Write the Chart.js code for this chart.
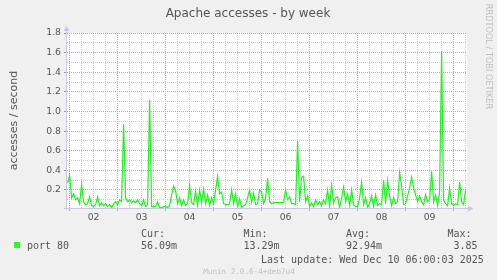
<!DOCTYPE html>
<html>
<head>
<meta charset="utf-8">
<script src="https://cdn.jsdelivr.net/npm/chart.js@4.4.1/dist/chart.umd.min.js"></script>
<style>
  html, body { margin: 0; padding: 0; background: #f0f0f0; }
  #wrap { width: 497px; height: 280px; }
</style>
</head>
<body>
<div id="wrap"><canvas id="apacheWeek" width="497" height="280"></canvas></div>
<script>
// hours counted from Tue Dec 02 00:00, one sample per hour
var startHour = -1;
var port80 = [
    0.27, 0.35, 0.12, 0.16, 0.10, 0.12, 0.06, 0.26, 0.08, 0.05, 0.06, 0.13, 0.04,
    0.03, 0.05, 0.13, 0.04, 0.07, 0.04, 0.06, 0.03, 0.05, 0.02, 0.06, 0.08,
    0.05, 0.10, 0.08, 0.87, 0.12, 0.08, 0.10, 0.07, 0.09, 0.07, 0.10, 0.06,
    0.04, 0.10, 0.03, 0.05, 1.12, 0.03, 0.03, 0.03, 0.08, 0.02, 0.02, 0.03,
    0.03, 0.02, 0.04, 0.15, 0.24, 0.19, 0.06, 0.12, 0.04, 0.10, 0.04, 0.06,
    0.25, 0.07, 0.05, 0.19, 0.04, 0.20, 0.07, 0.21, 0.06, 0.15, 0.04, 0.12,
    0.06, 0.20, 0.34, 0.16, 0.18, 0.06, 0.05, 0.05, 0.06, 0.20, 0.06, 0.16,
    0.03, 0.11, 0.02, 0.04, 0.05, 0.12, 0.20, 0.07, 0.17, 0.05, 0.06, 0.20,
    0.18, 0.06, 0.12, 0.32, 0.08, 0.06, 0.07, 0.07, 0.07, 0.07, 0.07, 0.07,
    0.20, 0.10, 0.13, 0.06, 0.06, 0.05, 0.70, 0.08, 0.33, 0.34, 0.08, 0.14,
    0.03, 0.07, 0.03, 0.10, 0.05, 0.08, 0.04, 0.10, 0.06, 0.20, 0.03, 0.25,
    0.07, 0.12, 0.13, 0.02, 0.12, 0.23, 0.08, 0.16, 0.04, 0.20, 0.05, 0.03,
    0.03, 0.12, 0.28, 0.05, 0.12, 0.02, 0.06, 0.14, 0.03, 0.15, 0.04, 0.06,
    0.05, 0.30, 0.06, 0.30, 0.14, 0.04, 0.12, 0.06, 0.08, 0.38, 0.24, 0.05,
    0.06, 0.14, 0.22, 0.33, 0.22, 0.15, 0.08, 0.14, 0.08, 0.05, 0.15, 0.08,
    0.10, 0.39, 0.08, 0.15, 0.04, 0.18, 1.62, 0.10, 0.06, 0.04, 0.22, 0.06,
    0.04, 0.06, 0.05, 0.28, 0.08, 0.05, 0.20
];
var dayLabels = ['02', '03', '04', '05', '06', '07', '08', '09'];
var legendName = 'port 80';
var legendStats = [['Cur:', '56.09m'], ['Min:', '13.29m'], ['Avg:', '92.94m'], ['Max:', '3.85']];

var points = port80.map(function(v, i) { return { x: startHour + i, y: v }; });

var red = 'rgb(238, 150, 150)';
var grey = 'rgb(205, 205, 205)';
var axisColor = '#c8c8e4';
var textColor = '#555555';

// rrdtool style decorations: title, axis label, legend, arrows
var munin = {
    id: 'munin',
    beforeDraw: function(chart) {
        var ctx = chart.ctx, a = chart.chartArea;
        ctx.save();
        ctx.fillStyle = '#f0f0f0';
        ctx.fillRect(0, 0, chart.width, chart.height);
        ctx.fillStyle = '#ffffff';
        ctx.fillRect(a.left, a.top, a.right - a.left, a.bottom - a.top);
        ctx.restore();
    },
    afterDraw: function(chart) {
        var ctx = chart.ctx, a = chart.chartArea;
        ctx.save();
        // axes with arrows
        ctx.strokeStyle = axisColor;
        ctx.fillStyle = axisColor;
        ctx.lineWidth = 1;
        ctx.beginPath();
        ctx.moveTo(a.left - 0.5, a.bottom + 2);
        ctx.lineTo(a.left - 0.5, a.top - 3);
        ctx.moveTo(a.left - 3, a.bottom + 0.5);
        ctx.lineTo(a.right + 2, a.bottom + 0.5);
        ctx.stroke();
        ctx.beginPath();
        ctx.moveTo(a.left - 3.5, a.top - 2);
        ctx.lineTo(a.left + 2.5, a.top - 2);
        ctx.lineTo(a.left - 0.5, a.top - 7);
        ctx.closePath();
        ctx.fill();
        ctx.beginPath();
        ctx.moveTo(a.right + 1, a.bottom - 2.5);
        ctx.lineTo(a.right + 1, a.bottom + 3.5);
        ctx.lineTo(a.right + 6, a.bottom + 0.5);
        ctx.closePath();
        ctx.fill();

        // title
        ctx.fillStyle = textColor;
        ctx.font = '12px "DejaVu Sans"';
        ctx.textAlign = 'center';
        ctx.textBaseline = 'alphabetic';
        ctx.fillText('Apache accesses - by week', 248, 17);

        // y axis title
        ctx.save();
        ctx.translate(17, (a.top + a.bottom) / 2);
        ctx.rotate(-Math.PI / 2);
        ctx.font = '11px "DejaVu Sans"';
        ctx.fillText('accesses / second', 0, 0);
        ctx.restore();

        // rrdtool credit
        ctx.save();
        ctx.translate(486, 56.5);
        ctx.rotate(Math.PI / 2);
        ctx.fillStyle = '#c0c0c0';
        ctx.font = '8.2px "DejaVu Sans"';
        ctx.fillText('RRDTOOL / TOBI OETIKER', 0, 0);
        ctx.restore();

        // legend
        ctx.textAlign = 'left';
        ctx.fillStyle = '#22ff22';
        ctx.fillRect(14, 242, 6, 6);
        ctx.fillStyle = textColor;
        ctx.font = '10px "DejaVu Sans Mono"';
        ctx.fillText(legendName, 27, 249);
        var cols = [141, 243.5, 346, 447.5];
        legendStats.forEach(function(s, i) {
            ctx.fillText(s[0], cols[i], 236.5);
            ctx.fillText(s[1], i === 3 ? cols[i] + 6 : cols[i], 249);
        });
        ctx.fillText('Last update: Wed Dec 10 06:00:03 2025', 261, 262.5);

        ctx.fillStyle = '#c0c0c0';
        ctx.font = '7.6px "DejaVu Sans Mono"';
        ctx.textAlign = 'center';
        ctx.fillText('Munin 2.0.6-4+deb7u4', 249, 274);
        ctx.restore();
    }
};

var ctxWeek = document.getElementById('apacheWeek').getContext('2d');
var weekChart = new Chart(ctxWeek, {
    type: 'line',
    data: {
        datasets: [{
            label: legendName,
            data: points,
            borderColor: '#22f022',
            borderWidth: 1.2,
            pointRadius: 0,
            tension: 0,
            fill: false
        }]
    },
    options: {
        responsive: false,
        animation: false,
        layout: { padding: { top: 33, right: 30, left: 0, bottom: 0 } },
        plugins: {
            legend: { display: false },
            title: { display: false },
            tooltip: { enabled: false }
        },
        scales: {
            x: {
                type: 'linear',
                min: -1.3,
                max: 198.7,
                afterFit: function(s) { s.height = 72; },
                border: { display: false, dash: [1, 1] },
                grid: {
                    color: function(c) { return c.tick && c.tick.value % 24 === 0 ? red : grey; },
                    tickLength: 3,
                    tickColor: function(c) { return c.tick && c.tick.value % 24 === 0 ? red : 'rgba(0,0,0,0)'; }
                },
                ticks: {
                    stepSize: 6,
                    includeBounds: false,
                    autoSkip: false,
                    maxRotation: 0,
                    padding: 1,
                    color: textColor,
                    font: { family: 'DejaVu Sans', size: 9.3 },
                    callback: function(v) {
                        if (v % 24 !== 12) return '';
                        return dayLabels[Math.floor(v / 24)] || '';
                    }
                }
            },
            y: {
                min: 0.016,
                max: 1.8,
                afterFit: function(s) { s.width = 67; },
                border: { display: false, dash: [1, 1] },
                grid: {
                    color: function(c) { return c.tick && Math.round(c.tick.value * 10) % 2 === 0 ? red : grey; },
                    tickLength: 3,
                    tickColor: function(c) { return c.tick && Math.round(c.tick.value * 10) % 2 === 0 ? '#999' : 'rgba(0,0,0,0)'; }
                },
                ticks: {
                    stepSize: 0.1,
                    includeBounds: false,
                    autoSkip: false,
                    padding: 3,
                    color: textColor,
                    font: { family: 'DejaVu Sans', size: 9.3 },
                    callback: function(v) {
                        var t = Math.round(v * 10);
                        return t % 2 === 0 ? (t / 10).toFixed(1) : '';
                    }
                }
            }
        }
    },
    plugins: [munin]
});
</script>
</body>
</html>
